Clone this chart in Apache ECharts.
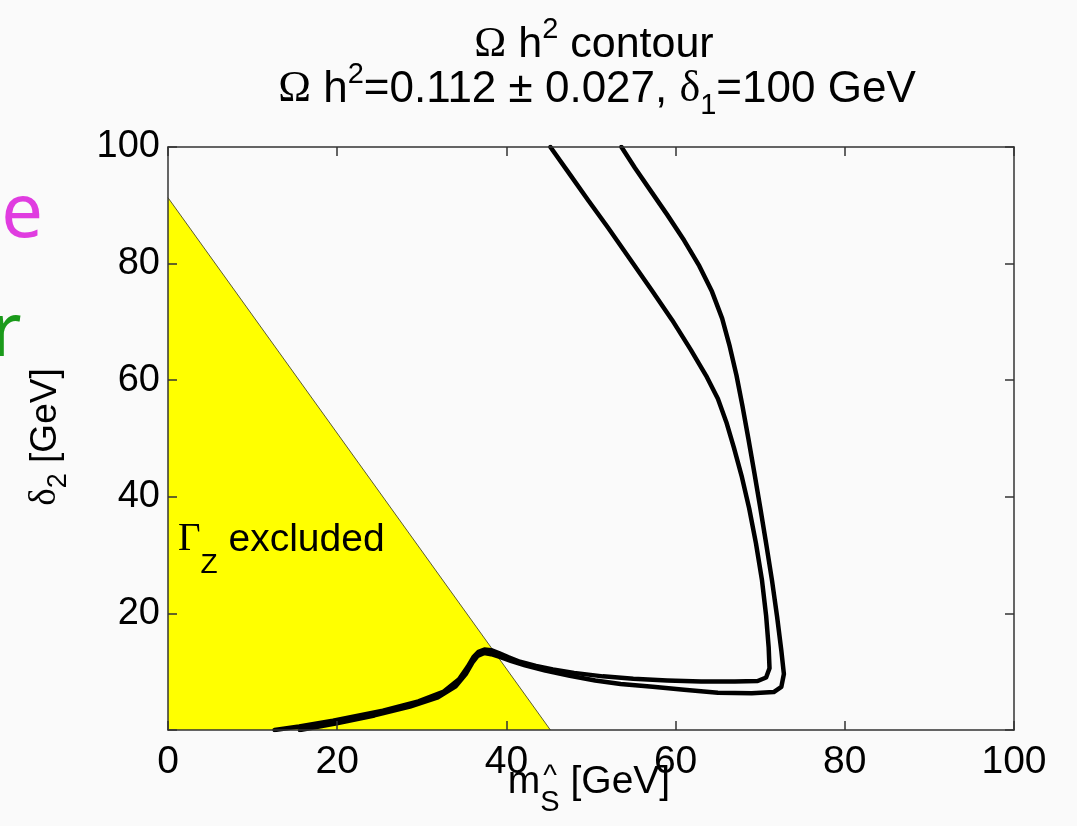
<!DOCTYPE html>
<html><head><meta charset="utf-8">
<script src="https://cdn.jsdelivr.net/npm/echarts@6/dist/echarts.min.js"></script>
<style>html,body{margin:0;padding:0;background:#fafafa}#c{width:1077px;height:826px}</style>
</head><body><div id="c"></div>
<script>
// ---------------- data ----------------
const xTicks = [0, 20, 40, 60, 80, 100];
const yTicks = [20, 40, 60, 80, 100];
// Gamma_Z excluded region: straight boundary from (0, 91.3) to (45.2, 0)
const excludedRegion = [[0, 91.3], [45.2, 0]];
// inner contour (left / upper of the pair)
const contourInner = [
  [45.2,100],[47.5,95.3],[49.6,91.0],[52.0,86.2],[54.6,80.8],[57.2,75.4],[59.6,70.3],[61.8,65.2],
  [63.6,60.8],[65.0,56.8],[66.0,52.8],[66.9,48.4],[67.8,43.6],[68.7,38.0],[69.5,32.0],[70.2,25.8],
  [70.7,19.6],[71.0,14.2],[71.1,10.6],[70.7,9.0],[69.7,8.4],[67.0,8.3],[63.0,8.3],[59.0,8.5],
  [55.0,8.8],[51.4,9.2],[48.0,9.8],[45.5,10.4],[43.5,11.0],[41.6,11.7],[40.2,12.5],[39.1,13.2],
  [38.2,13.7],[37.4,13.8],[36.7,13.4],[36.1,12.5],[35.4,10.8],[34.4,8.7],[32.6,6.6],[29.6,4.9],
  [25.4,3.3],[19.5,1.6],[15.5,0.6],[12.6,0]
];
// outer contour (right / lower of the pair)
const contourOuter = [
  [53.6,100],[55.2,96.4],[57.0,92.6],[59.0,88.4],[61.0,84.0],[62.8,79.6],[64.3,75.2],[65.5,70.6],
  [66.4,65.8],[67.2,60.8],[67.9,55.6],[68.6,50.0],[69.3,44.2],[70.0,38.2],[70.7,32.0],[71.4,25.6],
  [72.0,19.4],[72.5,13.6],[72.8,9.6],[72.5,7.4],[71.6,6.5],[69.0,6.3],[65.0,6.4],[61.0,6.9],
  [57.3,7.4],[53.5,7.9],[50.5,8.5],[47.5,9.3],[44.6,10.2],[42.2,11.1],[40.6,11.8],[39.3,12.5],
  [38.2,13.0],[37.4,13.2],[36.6,12.7],[36.0,11.6],[35.2,9.6],[34.0,7.5],[31.9,5.6],[28.6,4.0],
  [24.4,2.5],[19.8,1.1],[15.6,0]
];

// ---------------- text helpers ----------------
const SANS = '"Liberation Sans", Arial, sans-serif';
const SERIF = '"Liberation Serif", "Times New Roman", serif';
const cvs = document.createElement('canvas');
const ctx = cvs.getContext('2d');
function fam(p){ return p.serif ? SERIF : SANS; }
function tw(p){ ctx.font = p.size + 'px ' + fam(p); return ctx.measureText(p.t).width; }
function txt(t, x, baseY, size, family, fill, align){
  return {type:'text', x:x, y: baseY - 0.31*size, silent:true, z:100,
    style:{text:t, fontSize:size, fontFamily:family, fill:fill||'#000', textAlign:align||'left', textVerticalAlign:'middle'}};
}
function compose(parts, anchorX, baseY, align){
  let total = 0;
  parts.forEach(p => { p.w = tw(p); total += p.w; });
  let x = align === 'center' ? anchorX - total/2 : anchorX;
  const out = [];
  parts.forEach(p => {
    p.x = x;
    out.push(txt(p.t, x, baseY + (p.dy||0), p.size, fam(p)));
    x += p.w;
  });
  return out;
}

const titleLine1 = compose([
  {t:'Ω', size:43, serif:true}, {t:' h', size:43}, {t:'2', size:29, dy:-19}, {t:' contour', size:43}
], 594, 58, 'center');
const titleLine2 = compose([
  {t:'Ω', size:44, serif:true}, {t:' h', size:44}, {t:'2', size:29, dy:-19},
  {t:'=0.112 ± 0.027, ', size:44}, {t:'δ', size:44, serif:true}, {t:'1', size:29, dy:12},
  {t:'=100 GeV', size:44}
], 597, 103, 'center');

const yLabelParts = compose([
  {t:'δ', size:37, serif:true}, {t:'2', size:27, dy:10}, {t:' [GeV]', size:37}
], 0, 0, 'center');

const xParts = [{t:'m', size:39}, {t:'S', size:29, dy:18}, {t:' [GeV]', size:39}];
const xLabelEls = compose(xParts, 589, 794, 'center');
const hatX = xParts[1].x + xParts[1].w/2;
xLabelEls.push(txt('^', hatX, 786, 29, SANS, '#000', 'center'));

const excludedLabel = compose([
  {t:'Γ', size:39, serif:true}, {t:'Z', size:28, dy:22}, {t:' excluded', size:39}
], 178, 552, 'left');

const chart = echarts.init(document.getElementById('c'), null, {renderer:'canvas'});
const axisLineStyle = {color:'#333', width:1.5};
chart.setOption({
  backgroundColor:'#fafafa',
  animation:false,
  grid:{left:168, right:63, top:147, bottom:96, containLabel:false, outerBoundsMode:'none'},
  xAxis:[
    {type:'value', min:0, max:100, interval:20, position:'bottom', z:5,
     axisLine:{show:true, onZero:false, lineStyle:axisLineStyle},
     axisTick:{show:true, inside:true, length:9, lineStyle:axisLineStyle},
     axisLabel:{show:true, fontSize:39, fontFamily:SANS, color:'#000', margin:13,
       formatter: v => xTicks.indexOf(v) >= 0 ? String(v) : ''},
     splitLine:{show:false}},
    {type:'value', min:0, max:100, interval:20, position:'top', z:5,
     axisLine:{show:true, onZero:false, lineStyle:axisLineStyle},
     axisTick:{show:true, inside:true, length:9, lineStyle:axisLineStyle},
     axisLabel:{show:false}, splitLine:{show:false}}
  ],
  yAxis:[
    {type:'value', min:0, max:100, interval:20, position:'left', z:5,
     axisLine:{show:true, onZero:false, lineStyle:axisLineStyle},
     axisTick:{show:true, inside:true, length:9, lineStyle:axisLineStyle},
     axisLabel:{show:true, fontSize:38, fontFamily:SANS, color:'#000', margin:8,
       formatter: v => yTicks.indexOf(v) >= 0 ? String(v) : ''},
     splitLine:{show:false}},
    {type:'value', min:0, max:100, interval:20, position:'right', z:5,
     axisLine:{show:true, onZero:false, lineStyle:axisLineStyle},
     axisTick:{show:true, inside:true, length:9, lineStyle:axisLineStyle},
     axisLabel:{show:false}, splitLine:{show:false}}
  ],
  series:[
    {type:'line', name:'excluded', data:excludedRegion, showSymbol:false, z:1,
     lineStyle:{color:'#5c5c30', width:1}, areaStyle:{color:'#ffff00', opacity:1, origin:'start'}},
    {type:'line', name:'inner', data:contourInner, showSymbol:false, smooth:false, z:3,
     lineStyle:{color:'#000', width:4.5, join:'round', cap:'round'}},
    {type:'line', name:'outer', data:contourOuter, showSymbol:false, smooth:false, z:3,
     lineStyle:{color:'#000', width:4.5, join:'round', cap:'round'}}
  ],
  graphic:[
    ...titleLine1, ...titleLine2,
    {type:'group', x:57, y:437, rotation:Math.PI/2, z:100, children:yLabelParts},
    ...xLabelEls,
    ...excludedLabel,
    txt('e', 43, 239, 74, '"Noto Sans", sans-serif', '#e03ce0', 'right'),
    txt('r', -9, 358, 74, '"Noto Sans", sans-serif', '#1a9a1a', 'left')
  ]
});
</script></body></html>
